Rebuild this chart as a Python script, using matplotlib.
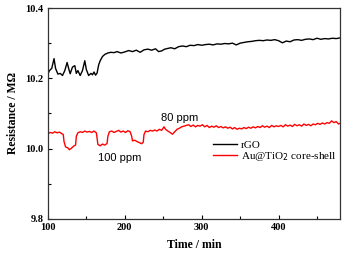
import matplotlib
matplotlib.use("Agg")
import matplotlib.pyplot as plt
from matplotlib.ticker import MultipleLocator

rgo_t = [100,102,105,108,110,113,116,119,122,125,127,129,132,135,137,139,142,145,148,150,153,156,158,160,162,164,166,168,171,174,178,182,186,190,195,200,205,210,215,220,225,230,235,240,244,248,252,256,260,265,270,275,280,285,290,295,300,305,310,315,320,325,330,335,340,345,350,355,360,365,370,375,380,385,390,395,400,405,410,415,420,425,430,435,440,445,450,455,460,465,470,475,480]
rgo_r = [10.212,10.222,10.228,10.256,10.228,10.212,10.214,10.208,10.222,10.245,10.228,10.213,10.232,10.236,10.214,10.222,10.208,10.222,10.250,10.225,10.208,10.214,10.210,10.218,10.209,10.215,10.238,10.250,10.262,10.268,10.272,10.274,10.273,10.276,10.272,10.275,10.279,10.276,10.280,10.274,10.281,10.283,10.280,10.284,10.276,10.278,10.283,10.285,10.287,10.284,10.290,10.292,10.290,10.294,10.293,10.296,10.294,10.296,10.297,10.295,10.298,10.297,10.299,10.298,10.300,10.295,10.300,10.302,10.304,10.305,10.307,10.308,10.307,10.309,10.308,10.310,10.307,10.301,10.306,10.304,10.309,10.310,10.308,10.311,10.312,10.310,10.314,10.311,10.313,10.312,10.314,10.313,10.315]

au_t = [100,103,106,109,112,115,118,120,121,123,126,128,130,132,134,136,137,139,142,145,148,151,154,157,160,163,164,165,168,171,174,177,178,180,183,186,189,192,195,198,201,204,207,209,210,213,216,219,222,224,225,227,230,233,236,239,242,245,248,251,253,256,259,262,265,268,271,274,277,280,283,286,289,292,295,298,301,304,307,310,313,316,319,322,325,328,331,334,337,340,343,346,349,352,355,358,361,364,367,370,373,376,379,382,385,388,391,394,397,400,403,406,409,412,415,418,421,424,427,430,433,436,439,442,445,448,451,454,457,460,463,466,469,472,475,478,480]
au_r = [10.042,10.046,10.044,10.048,10.045,10.047,10.043,10.040,10.020,10.005,10.002,9.997,10.000,10.004,10.008,10.010,10.035,10.045,10.048,10.046,10.050,10.047,10.049,10.046,10.050,10.045,10.030,10.012,10.008,10.013,10.010,10.015,10.035,10.048,10.050,10.046,10.049,10.052,10.047,10.050,10.046,10.051,10.048,10.035,10.022,10.024,10.020,10.017,10.014,10.018,10.040,10.050,10.048,10.052,10.050,10.053,10.050,10.055,10.052,10.062,10.055,10.050,10.046,10.041,10.048,10.055,10.058,10.062,10.064,10.066,10.068,10.063,10.067,10.062,10.066,10.064,10.068,10.062,10.066,10.060,10.064,10.061,10.065,10.060,10.063,10.059,10.062,10.058,10.061,10.056,10.060,10.055,10.058,10.056,10.060,10.057,10.061,10.058,10.062,10.059,10.063,10.060,10.065,10.061,10.064,10.060,10.066,10.062,10.065,10.063,10.066,10.062,10.068,10.064,10.067,10.063,10.069,10.065,10.068,10.064,10.070,10.066,10.069,10.065,10.070,10.068,10.072,10.069,10.073,10.070,10.074,10.072,10.079,10.074,10.077,10.070,10.072]

labels = ["rGO", "Au@TiO$_2$ core-shell"]
annotations = [("80 ppm", 271, 10.088), ("100 ppm", 194, 9.972)]

fig = plt.figure(figsize=(3.47, 2.54), dpi=100)
ax = fig.add_axes([0.138, 0.138, 0.842, 0.8305])

ax.plot(rgo_t, rgo_r, color="black", lw=1.0, label=labels[0])
ax.plot(au_t, au_r, color="#ff0000", lw=1.0, label=labels[1])

ax.set_xlim(100, 480)
ax.set_ylim(9.8, 10.4)
ax.xaxis.set_major_locator(MultipleLocator(100))
ax.xaxis.set_minor_locator(MultipleLocator(50))
ax.yaxis.set_major_locator(MultipleLocator(0.2))
ax.yaxis.set_minor_locator(MultipleLocator(0.1))
ax.tick_params(which="both", direction="in", top=False, right=False)
ax.tick_params(which="major", length=3, width=0.8, pad=3)
ax.tick_params(which="minor", length=2, width=0.8)
for s in ax.spines.values():
    s.set_linewidth(0.9)
    s.set_color("#333333")

for lab in ax.get_xticklabels() + ax.get_yticklabels():
    lab.set_fontfamily("Liberation Serif")
    lab.set_fontweight("bold")
    lab.set_fontsize(7.5)

ax.set_xlabel("Time / min", fontfamily="Liberation Serif", fontweight="bold", fontsize=8.5, labelpad=5)
ax.set_ylabel("Resistance / M\u03a9", fontfamily="Liberation Serif", fontweight="bold", fontsize=8.5, labelpad=5)

for txt, x, y in annotations:
    ax.text(x, y, txt, fontfamily="Liberation Sans", fontsize=8, ha="center", va="center")

leg = ax.legend(loc="upper left", bbox_to_anchor=(0.565, 0.375), frameon=False,
                prop={"family": "Liberation Serif", "size": 8},
                handlelength=2.2, handletextpad=0.3, labelspacing=0.05,
                borderpad=0, borderaxespad=0)

fig.savefig("out.png", dpi=100)
